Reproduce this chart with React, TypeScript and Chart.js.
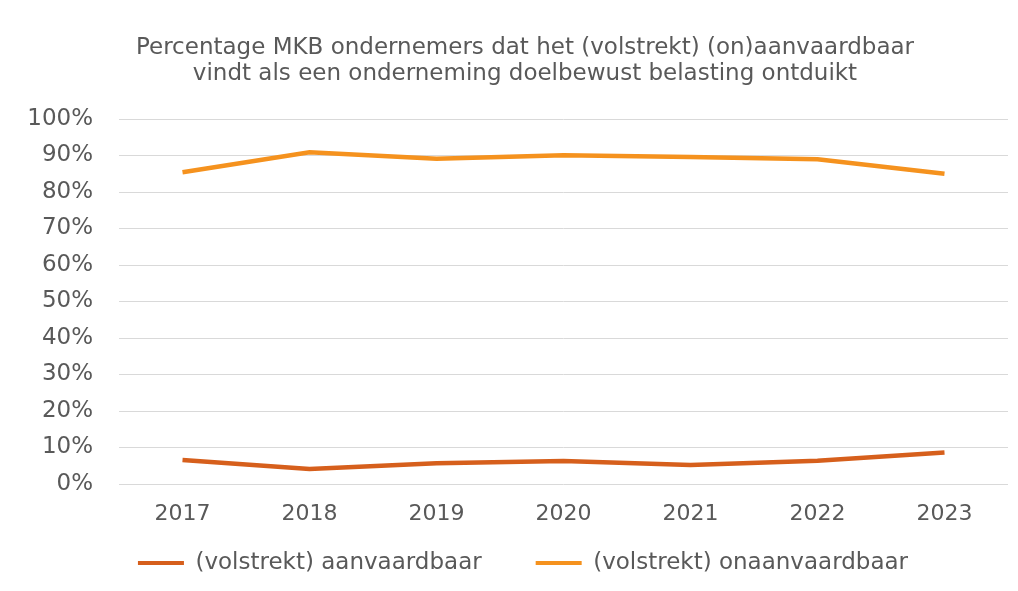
import React, { useEffect, useRef } from "react";
import { Chart, registerables } from "chart.js";

Chart.register(...registerables);

const years = ["2017", "2018", "2019", "2020", "2021", "2022", "2023"];
const aanvaardbaar = [6.6, 4.1, 5.7, 6.3, 5.2, 6.4, 8.6];
const onaanvaardbaar = [85.4, 90.9, 89.1, 90.1, 89.6, 89.0, 85.0];
const titleLines = [
  "Percentage MKB ondernemers dat het (volstrekt) (on)aanvaardbaar",
  "vindt als een onderneming doelbewust belasting ontduikt",
];
const seriesNames = ["(volstrekt) aanvaardbaar", "(volstrekt) onaanvaardbaar"];
const colors = ["#D65F1C", "#F5921E"];

const boxShift = {
  id: "boxShift",
  afterLayout(chart: any) {
    const lg = chart.legend;
    if (lg) {
      lg.top -= 47;
      lg.bottom -= 47;
      lg.left += 14;
      lg.right += 14;
    }
    const tt = chart.titleBlock;
    if (tt) {
      tt.left += 16;
      tt.right += 16;
      tt.top += 1;
      tt.bottom += 1;
    }
  },
};

export default function App() {
  const ref = useRef<HTMLCanvasElement>(null);
  useEffect(() => {
    if (!ref.current) return;
    const FONT = "DejaVu Sans";
    const chart = new Chart(ref.current, {
      type: "line",
      data: {
        labels: years,
        datasets: [
          {
            label: seriesNames[0],
            data: aanvaardbaar,
            borderColor: colors[0],
            backgroundColor: colors[0],
            borderWidth: 4.5,
            pointRadius: 0,
            tension: 0,
          },
          {
            label: seriesNames[1],
            data: onaanvaardbaar,
            borderColor: colors[1],
            backgroundColor: colors[1],
            borderWidth: 4.5,
            pointRadius: 0,
            tension: 0,
          },
        ],
      },
      plugins: [boxShift],
      options: {
        animation: false,
        responsive: false,
        maintainAspectRatio: false,
        layout: { padding: { left: 10, right: 10, top: 34, bottom: 8.6 } },
        plugins: {
          title: {
            display: true,
            text: titleLines,
            color: "#595959",
            font: { family: FONT, size: 23, weight: "normal", lineHeight: 26 / 23 },
            padding: { top: 0, bottom: 33 },
          },
          legend: {
            position: "bottom",
            labels: {
              color: "#595959",
              font: { family: FONT, size: 23 },
              boxWidth: 46,
              boxHeight: 4,
              padding: 54,
              generateLabels: (c: any) =>
                c.data.datasets.map((d: any, i: number) => ({
                  text: d.label,
                  fillStyle: d.borderColor,
                  strokeStyle: d.borderColor,
                  lineWidth: 0,
                  datasetIndex: i,
                  fontColor: "#595959",
                })),
            },
          },
          tooltip: { enabled: false },
        },
        scales: {
          x: {
            offset: true,
            grid: { display: false, drawTicks: false },
            border: { display: false },
            ticks: {
              color: "#595959",
              font: { family: FONT, size: 22 },
              padding: 17,
            },
          },
          y: {
            min: 0,
            max: 100,
            afterFit: (s: any) => {
              s.width = 109;
            },
            grid: { color: "#D9D9D9", lineWidth: 1, drawTicks: false },
            border: { display: false },
            ticks: {
              stepSize: 10,
              color: "#595959",
              font: { family: FONT, size: 23 },
              padding: 26,
              callback: (v: any) => v + "%",
            },
          },
        },
      },
    });
    return () => chart.destroy();
  }, []);
  return (
    <div style={{ position: "fixed", left: 0, top: 0, width: 1018, height: 591, overflow: "hidden", background: "#fff" }}>
      <canvas ref={ref} width={1018} height={640} style={{ display: "block" }} />
    </div>
  );
}
